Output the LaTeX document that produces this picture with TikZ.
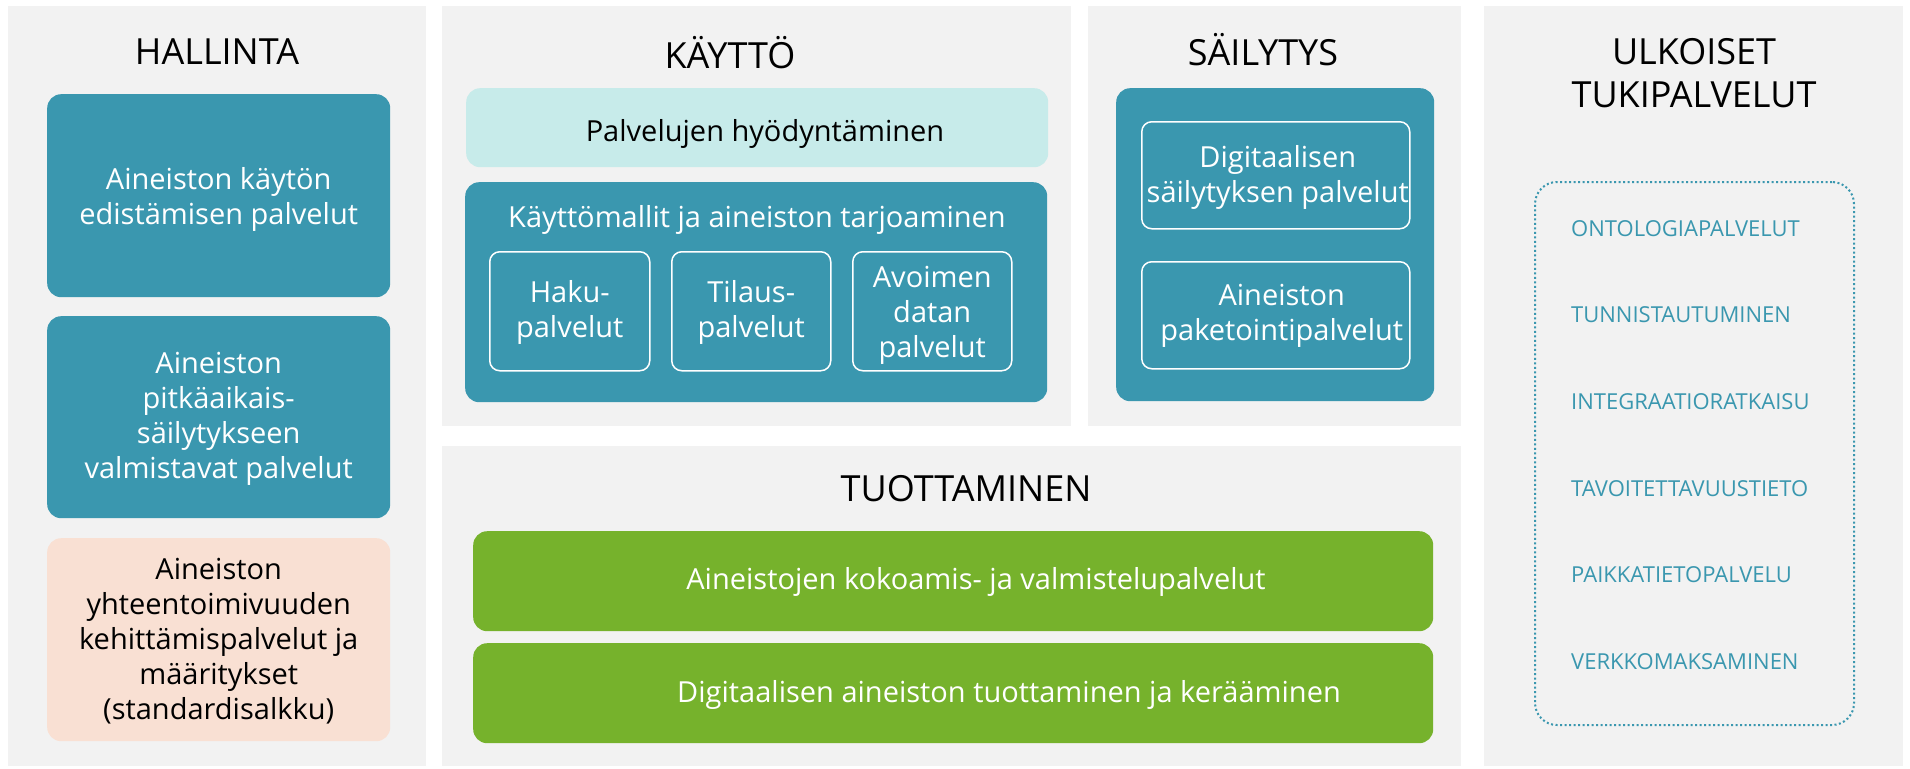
\documentclass[tikz,border=0pt]{standalone}
\usepackage{fontspec}
\setmainfont{Open Sans}
\newfontfamily\itemfont{Open Sans}
\definecolor{panelgray}{HTML}{F2F2F2}
\definecolor{tealbox}{HTML}{3A97AF}
\definecolor{cyanbox}{HTML}{C7EBEA}
\definecolor{peachbox}{HTML}{F9E0D3}
\definecolor{greenbox}{HTML}{76B22C}
\tikzset{
  panel/.style={fill=panelgray, draw=none, anchor=north west, inner sep=0},
  tbox/.style={fill=tealbox, draw=none, rounded corners=14, anchor=north west, inner sep=0},
  cbox/.style={fill=cyanbox, draw=none, rounded corners=14, anchor=north west, inner sep=0},
  pbox/.style={fill=peachbox, draw=none, rounded corners=14, anchor=north west, inner sep=0},
  gbox/.style={fill=greenbox, draw=none, rounded corners=14, anchor=north west, inner sep=0},
  wbox/.style={draw=white, line width=1.5, rounded corners=10, anchor=north west, inner sep=0},
  dbox/.style={draw=tealbox, line width=2, dash pattern=on 2 off 2.5, rounded corners=22, anchor=north west, inner sep=0},
  title/.style={font=\fontsize{36}{43}\selectfont, text=black, align=center, inner sep=0},
  wtext/.style={font=\fontsize{29}{35}\selectfont, text=white, align=center, inner sep=0},
  btext/.style={font=\fontsize{29}{35}\selectfont, text=black, align=center, inner sep=0},
  itemtext/.style={font=\itemfont\fontsize{22}{26}\selectfont, text=tealbox, anchor=west, inner sep=0},
}
\begin{document}
\begin{tikzpicture}[x=1pt,y=-1pt]
\useasboundingbox (0,0) rectangle (1910,768);
\fill[white] (0,0) rectangle (1910,768);
% panels
\node[panel, minimum width=418, minimum height=760] (hal) at (8,6) {};
\node[panel, minimum width=629, minimum height=420] (kay) at (442,6) {};
\node[panel, minimum width=373, minimum height=420] (sai) at (1088,6) {};
\node[panel, minimum width=1019, minimum height=320] (tuo) at (442,446) {};
\node[panel, minimum width=419, minimum height=760] (ulk) at (1484,6) {};
% titles
\node[title] (thal) at (217,52) {HALLINTA};
\node[title] (tkay) at (730,53) {KÄYTTÖ};
\node[title] (tsai) at (1263,50) {SÄILYTYS};
\node[title] (ttuo) at (966,489) {TUOTTAMINEN};
\node[title] (tulk) at (1694,73) {ULKOISET\\TUKIPALVELUT};
% hallinta
\node[tbox, minimum width=343, minimum height=203] (h1) at (47,94) {};
\node[wtext] (h1t) at ([yshift=-4]h1.center) {Aineiston käytön\\edistämisen palvelut};
\node[tbox, minimum width=343, minimum height=202] (h2) at (47,316) {};
\node[wtext] (h2t) at ([yshift=-2]h2.center) {Aineiston\\pitkäaikais-\\säilytykseen\\valmistavat palvelut};
\node[pbox, minimum width=343, minimum height=203] (h3) at (47,538) {};
\node[btext] (h3t) at ([yshift=-1]h3.center) {Aineiston\\yhteentoimivuuden\\kehittämispalvelut ja\\määritykset\\(standardisalkku)};
% kaytto
\node[cbox, minimum width=582, minimum height=79] (k1) at (466,88) {};
\node[btext, anchor=base] (k1t) at (765,141) {Palvelujen hyödyntäminen};
\node[tbox, minimum width=582, minimum height=220] (k2) at (465,182) {};
\node[wtext] (k2t) at (757,220) {Käyttömallit ja aineiston tarjoaminen};
\node[wbox, minimum width=160, minimum height=119] (k3) at (489,251) {};
\node[wtext] (k3t) at ([yshift=-1]k3.center) {Haku-\\palvelut};
\node[wbox, minimum width=159, minimum height=119] (k4) at (671,251) {};
\node[wtext] (k4t) at ([yshift=-1]k4.center) {Tilaus-\\palvelut};
\node[wbox, minimum width=159, minimum height=119] (k5) at (852,251) {};
\node[wtext] (k5t) at ([yshift=-4]k5.center) {Avoimen\\datan\\palvelut};
% sailytys
\node[tbox, minimum width=318, minimum height=313] (s1) at (1116,88) {};
\node[wbox, minimum width=268, minimum height=107] (s2) at (1141,121) {};
\node[wtext] (s2t) at ([xshift=2,yshift=-2]s2.center) {Digitaalisen\\säilytyksen palvelut};
\node[wbox, minimum width=268, minimum height=107] (s3) at (1141,261) {};
\node[wtext] (s3t) at ([xshift=6,yshift=-1]s3.center) {Aineiston\\paketointipalvelut};
% tuottaminen
\node[gbox, minimum width=960, minimum height=100] (g1) at (473,531) {};
\node[wtext] (g1t) at (976,582) {Aineistojen kokoamis- ja valmistelupalvelut};
\node[gbox, minimum width=960, minimum height=100] (g2) at (473,643) {};
\node[wtext] (g2t) at (1009,695) {Digitaalisen aineiston tuottaminen ja kerääminen};
% ulkoiset
\node[dbox, minimum width=319, minimum height=543] (d) at (1534,181) {};
\node[itemtext] (u1) at (1571,229) {ONTOLOGIAPALVELUT};
\node[itemtext] (u2) at (1571,315) {TUNNISTAUTUMINEN};
\node[itemtext] (u3) at (1571,402) {INTEGRAATIORATKAISU};
\node[itemtext] (u4) at (1571,489) {TAVOITETTAVUUSTIETO};
\node[itemtext] (u5) at (1571,575) {PAIKKATIETOPALVELU};
\node[itemtext] (u6) at (1571,662) {VERKKOMAKSAMINEN};
\end{tikzpicture}
\end{document}
